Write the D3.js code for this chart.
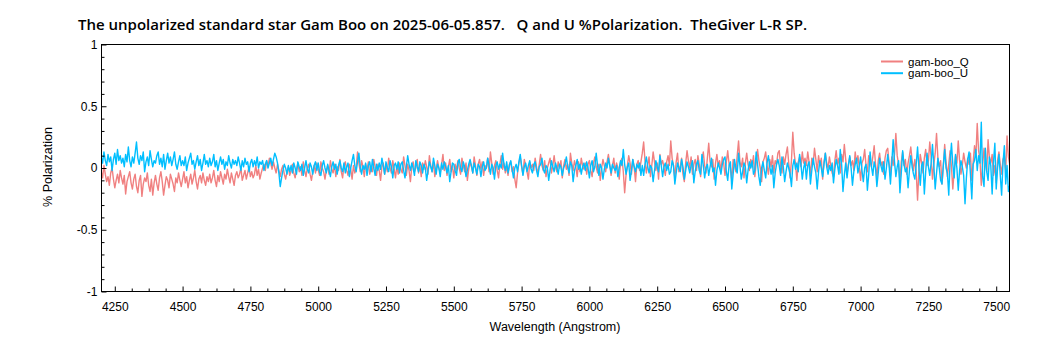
<!DOCTYPE html>
<html>
<head>
<meta charset="utf-8">
<script src="https://cdn.jsdelivr.net/npm/d3@7"></script>
<style>
  html, body { margin: 0; padding: 0; background: #fff; }
  svg { display: block; }
</style>
</head>
<body>
<svg id="chart" width="1050" height="350"></svg>
<script>
// ---- data ----
const titleText = "The unpolarized standard star Gam Boo on 2025-06-05.857.   Q and U %Polarization.  TheGiver L-R SP.";
const xLabel = "Wavelength (Angstrom)";
const yLabel = "% Polarization";
const seriesNames = ["gam-boo_Q", "gam-boo_U"];
const xTicks = [4250, 4500, 4750, 5000, 5250, 5500, 5750, 6000, 6250, 6500, 6750, 7000, 7250, 7500];
const yTicks = [-1, -0.5, 0, 0.5, 1];
const waveStart = 4200, waveStep = 5;

const qValues = [
  -0.03,-0.08,0.02,-0.05,-0.11,-0.07,-0.14,-0.04,0.00,-0.09,-0.16,-0.10,-0.05,-0.12,-0.02,-0.08,-0.13,-0.06,-0.21,-0.11,
  -0.07,-0.03,-0.12,-0.17,-0.09,-0.05,-0.15,-0.20,-0.10,-0.06,-0.23,-0.13,-0.08,-0.11,-0.04,-0.14,-0.19,-0.09,-0.22,-0.12,
  -0.06,-0.13,-0.18,-0.08,-0.03,-0.11,-0.22,-0.14,-0.07,-0.10,-0.16,-0.05,-0.09,-0.13,-0.19,-0.08,-0.12,-0.04,-0.10,-0.15,
  -0.09,-0.03,-0.12,-0.07,-0.16,-0.10,-0.05,-0.13,-0.08,-0.02,-0.11,-0.17,-0.09,-0.06,-0.12,-0.04,-0.10,-0.14,-0.07,-0.11,
  -0.05,-0.12,-0.08,-0.02,-0.10,-0.15,-0.06,-0.11,-0.03,-0.08,-0.13,-0.05,-0.09,-0.01,-0.07,-0.12,-0.04,-0.09,-0.14,-0.06,
  -0.03,-0.08,-0.05,0.00,-0.10,-0.06,-0.02,-0.09,-0.04,0.01,-0.07,-0.03,-0.08,-0.05,0.02,-0.06,-0.01,-0.09,-0.04,0.00,
  0.03,-0.02,0.06,0.01,0.08,0.04,-0.01,0.05,0.00,-0.04,0.03,-0.02,-0.07,-0.01,0.02,-0.05,-0.09,-0.03,0.01,-0.06,
  -0.02,0.03,-0.04,-0.08,-0.01,0.04,-0.03,0.01,-0.06,0.05,-0.02,-0.07,0.00,0.03,-0.05,-0.10,-0.03,0.02,-0.04,0.04,
  -0.01,-0.06,0.05,0.00,-0.03,-0.09,-0.02,0.02,-0.05,0.06,-0.01,-0.04,0.03,-0.07,0.01,-0.02,0.07,-0.03,-0.08,0.02,
  0.05,-0.02,-0.06,0.03,-0.01,-0.09,0.02,-0.04,0.00,0.13,0.04,-0.03,0.06,0.01,-0.07,0.03,-0.02,0.05,-0.05,0.00,
  -0.03,0.07,0.01,-0.06,0.03,-0.02,-0.10,0.01,0.04,-0.05,0.02,-0.03,0.08,0.00,-0.04,0.06,-0.01,-0.08,0.02,-0.05,
  0.04,-0.01,-0.04,0.09,0.02,-0.06,0.03,-0.02,-0.11,0.01,0.05,-0.03,0.00,0.07,-0.04,0.02,-0.07,0.04,-0.01,0.06,
  0.01,-0.05,0.10,0.02,-0.03,0.05,-0.07,-0.01,0.06,0.00,-0.04,0.03,0.11,-0.02,0.04,-0.06,0.01,0.07,-0.03,0.02,
  -0.08,0.03,-0.02,0.06,0.00,-0.05,0.08,0.02,-0.03,0.04,-0.10,-0.01,0.05,0.01,-0.04,0.09,0.02,-0.06,0.03,0.07,
  -0.01,0.05,-0.06,0.02,0.00,0.08,-0.03,0.13,0.04,-0.05,0.02,0.06,-0.02,-0.08,0.03,0.10,-0.01,0.04,-0.04,0.01,
  -0.06,0.03,0.05,-0.03,0.01,-0.09,-0.16,-0.04,0.04,0.09,0.01,-0.05,0.07,0.02,-0.03,-0.09,0.05,0.00,0.03,-0.02,
  0.08,0.01,-0.05,0.03,0.11,0.02,-0.02,0.06,-0.07,0.00,0.04,0.08,-0.04,0.02,0.10,0.01,-0.03,0.05,0.00,0.06,
  -0.08,0.02,0.07,-0.01,0.03,-0.06,0.12,0.04,-0.02,0.06,0.01,-0.07,0.05,-0.03,0.08,0.02,-0.01,0.04,-0.05,0.03,
  0.06,-0.02,-0.07,0.04,0.09,0.01,-0.04,0.03,-0.10,0.00,0.07,0.02,-0.03,0.05,0.11,0.03,-0.06,0.02,0.08,-0.04,
  0.04,0.00,-0.09,0.05,0.08,-0.03,-0.20,-0.06,0.02,0.10,0.04,-0.05,0.07,0.01,-0.11,0.03,0.06,-0.02,0.05,0.12,
  0.21,0.06,-0.04,0.03,0.09,-0.07,0.02,0.13,0.05,-0.02,0.04,-0.09,0.11,0.03,0.06,0.00,-0.06,0.05,0.10,0.02,
  0.22,0.08,0.02,-0.08,0.05,0.12,-0.03,0.01,0.08,-0.05,-0.11,0.04,0.14,0.06,0.00,0.09,-0.05,0.03,0.07,-0.02,
  0.10,0.03,-0.07,0.06,0.13,0.02,-0.04,0.08,0.20,0.05,0.01,0.07,-0.09,0.04,0.11,0.02,0.06,-0.03,0.09,0.04,
  -0.06,0.05,0.14,0.03,0.00,-0.10,0.07,0.02,-0.03,0.10,0.22,0.05,0.01,0.08,-0.08,0.04,0.12,0.03,-0.02,0.07,
  0.01,0.10,-0.07,0.04,0.15,0.06,0.00,-0.11,0.05,0.08,0.13,0.02,-0.05,0.07,0.01,0.10,-0.04,0.06,0.03,0.12,
  0.14,0.02,-0.04,0.09,0.03,0.11,0.17,0.04,-0.08,0.06,0.29,0.12,0.03,-0.10,0.05,0.09,0.01,0.13,0.04,0.08,
  0.02,0.13,0.05,-0.06,0.08,0.03,0.16,0.07,-0.03,0.10,0.02,0.08,-0.09,0.05,0.12,0.04,0.00,0.09,0.02,-0.04,
  -0.07,0.06,0.14,0.03,0.08,-0.04,0.11,0.05,0.19,0.07,-0.05,0.03,0.09,0.02,0.06,-0.02,0.13,0.04,0.10,0.01,
  -0.10,0.04,0.07,0.15,0.02,-0.03,0.10,0.05,0.01,0.09,0.18,0.03,-0.08,0.06,0.12,0.02,0.05,-0.05,0.08,0.14,
  0.16,0.04,-0.06,0.09,0.02,0.11,0.28,0.10,0.03,-0.11,0.05,0.13,0.02,0.07,-0.05,0.04,0.10,0.17,0.06,-0.02,
  0.07,-0.03,-0.26,-0.02,0.11,0.04,-0.04,0.08,0.15,0.02,0.06,0.21,0.09,-0.09,0.03,0.12,0.28,0.08,0.01,0.06,
  -0.13,0.02,0.19,0.05,-0.07,0.03,0.14,0.01,-0.17,-0.02,0.10,0.04,0.22,0.06,-0.05,0.02,0.12,0.05,0.00,0.08,
  0.03,0.12,-0.10,0.05,0.18,0.09,0.36,0.14,0.07,-0.14,0.02,0.16,0.05,-0.03,0.23,0.08,0.04,0.11,-0.06,0.02,
  -0.12,0.06,0.13,0.03,-0.05,0.07,0.10,-0.02,0.26,0.09,0.03
];

const uValues = [
  0.09,0.04,0.13,0.06,0.02,0.11,0.05,0.09,-0.02,0.07,0.12,0.03,0.15,0.06,0.10,0.04,0.08,0.01,0.11,0.05,
  0.17,0.06,0.01,0.09,0.04,0.12,0.21,0.08,0.03,0.10,0.06,0.13,-0.03,0.05,0.09,0.02,0.14,0.07,0.01,0.06,
  0.04,0.10,0.13,0.03,0.08,0.01,0.11,-0.01,0.06,0.12,0.04,0.09,0.02,0.07,0.13,0.03,-0.01,0.05,0.10,0.02,
  0.06,0.02,0.09,-0.02,0.04,0.08,0.12,0.03,0.06,-0.01,0.05,0.10,0.02,0.07,-0.02,0.04,0.11,0.03,0.06,0.01,
  0.08,0.02,0.05,0.11,0.01,0.06,-0.02,0.04,0.09,0.03,0.07,-0.01,0.05,0.02,0.10,0.04,0.00,0.07,0.03,0.06,
  0.02,0.09,0.04,-0.02,0.06,0.01,0.08,0.03,0.05,-0.03,0.04,0.07,0.01,0.06,0.02,0.09,0.00,0.05,0.03,0.06,
  -0.02,0.03,0.06,0.00,0.04,0.08,0.02,0.07,0.12,0.09,0.04,-0.04,-0.15,-0.08,-0.02,0.03,0.00,-0.05,0.02,-0.03,
  0.02,-0.04,0.04,0.00,-0.05,0.05,0.01,-0.02,0.03,-0.06,0.00,0.06,-0.01,-0.04,0.04,0.01,-0.05,0.02,0.05,-0.02,
  0.04,-0.03,-0.06,0.02,0.06,0.00,-0.04,0.03,-0.02,-0.07,0.01,0.05,-0.01,0.03,-0.05,0.02,0.06,0.00,-0.03,0.04,
  -0.04,0.01,0.04,-0.07,0.00,0.06,0.11,0.02,-0.03,0.05,0.12,0.01,-0.05,0.02,-0.01,0.04,-0.06,0.02,0.05,-0.03,
  0.07,0.00,-0.06,0.03,-0.02,0.04,-0.01,0.08,0.02,-0.05,0.05,0.00,-0.03,0.06,0.01,-0.08,0.02,0.04,-0.01,0.05,
  -0.04,0.03,0.05,-0.02,-0.08,0.01,0.10,0.03,-0.02,0.04,0.00,-0.06,0.06,0.01,-0.03,0.05,0.02,-0.04,0.03,0.00,
  -0.10,-0.02,0.05,0.01,-0.03,0.08,0.02,-0.05,0.03,0.00,-0.07,0.04,-0.01,0.05,0.01,-0.04,0.02,-0.11,-0.03,0.04,
  0.03,-0.02,-0.06,0.04,0.07,0.00,-0.03,0.05,0.01,-0.07,-0.02,0.03,0.07,0.02,-0.04,0.04,0.00,-0.05,0.03,0.01,
  -0.07,0.01,0.05,-0.02,0.00,0.08,0.02,-0.05,0.03,0.00,-0.09,0.02,0.05,-0.01,0.03,0.00,0.12,0.03,-0.02,0.05,
  -0.04,0.02,0.06,-0.01,-0.08,0.00,0.03,-0.03,0.05,0.11,0.02,-0.06,0.01,0.04,-0.03,0.02,0.06,-0.01,-0.04,0.03,
  0.05,-0.02,-0.07,0.01,0.03,0.08,-0.01,-0.04,0.02,0.00,-0.10,-0.02,0.06,0.01,-0.03,0.04,0.00,-0.05,0.03,0.01,
  -0.06,0.00,0.03,0.09,0.01,-0.04,0.05,0.02,-0.11,-0.02,0.02,0.07,-0.01,0.03,-0.05,0.01,0.04,-0.02,0.05,0.00,
  -0.08,0.02,0.06,-0.03,0.01,0.12,0.02,-0.06,0.03,0.00,-0.09,-0.01,0.04,0.00,0.08,0.02,-0.04,0.03,0.00,-0.02,
  0.02,-0.07,0.00,0.06,0.02,0.15,0.03,-0.05,0.01,0.04,-0.10,-0.02,0.07,0.01,-0.03,0.03,0.00,0.04,-0.06,0.02,
  -0.06,0.03,0.09,0.01,-0.04,0.02,0.00,-0.11,-0.02,0.06,0.01,-0.03,0.10,0.02,-0.07,0.01,0.04,-0.02,0.03,-0.05,
  -0.03,0.06,0.02,-0.13,-0.04,0.04,0.00,-0.03,0.07,0.01,-0.09,-0.02,0.05,0.01,-0.04,0.02,0.06,-0.12,-0.03,0.03,
  0.06,-0.02,-0.05,0.11,0.02,-0.08,0.00,0.03,-0.06,0.01,0.08,-0.03,0.00,-0.14,-0.02,0.04,0.00,-0.05,0.03,0.07,
  0.09,-0.03,-0.10,0.02,0.05,-0.17,-0.05,0.07,0.00,-0.04,0.12,0.02,-0.09,-0.03,0.04,0.01,-0.12,-0.02,0.05,0.00,
  0.06,-0.05,-0.02,0.13,0.03,-0.07,-0.14,0.00,0.05,-0.02,-0.08,0.04,0.10,0.01,-0.05,0.02,-0.16,-0.04,0.03,0.07,
  0.02,-0.06,0.09,0.01,-0.11,-0.03,0.04,0.00,-0.05,-0.15,0.02,0.07,-0.01,0.04,-0.03,0.11,0.03,-0.09,0.00,0.05,
  -0.09,0.02,0.05,-0.13,-0.02,0.08,0.01,-0.04,-0.17,-0.03,0.06,0.00,-0.07,0.03,0.12,0.01,-0.05,0.02,-0.02,0.04,
  -0.12,-0.01,0.07,0.02,-0.05,0.15,0.03,-0.19,-0.06,0.04,-0.08,0.02,0.10,0.00,-0.14,-0.03,0.03,0.08,-0.04,0.01,
  0.09,-0.02,-0.11,0.00,0.03,-0.18,-0.05,0.13,0.01,-0.06,0.05,0.00,-0.15,-0.04,0.08,0.02,-0.03,0.05,-0.09,0.00,
  0.11,0.02,-0.13,0.04,0.23,0.05,-0.07,0.01,0.06,-0.20,-0.04,0.14,0.03,-0.03,0.00,-0.16,-0.02,0.10,0.01,-0.05,
  -0.09,0.03,0.17,0.00,-0.14,0.02,0.05,-0.21,-0.03,0.12,0.01,-0.06,0.04,0.19,0.02,-0.17,-0.04,0.08,0.00,-0.10,
  -0.13,0.02,0.15,0.00,-0.04,-0.22,0.05,0.20,0.03,-0.08,0.11,0.00,-0.18,-0.02,0.06,0.01,-0.06,-0.29,-0.08,0.07,
  0.13,-0.05,-0.25,0.03,0.06,0.15,-0.02,0.10,0.04,0.37,-0.07,-0.15,0.16,-0.03,-0.10,0.09,0.02,-0.21,0.05,0.20,
  -0.17,0.00,0.11,-0.06,-0.22,0.04,0.18,-0.13,0.02,-0.19,-0.14
];

const colors = ["#F08080", "#00BFFF"];

// ---- layout ----
const svg = d3.select("#chart");
const margin = { left: 101.5, right: 1009.5, top: 44.5, bottom: 291.5 };

const x = d3.scaleLinear().domain([4201, 7549]).range([margin.left, margin.right]);
const y = d3.scaleLinear().domain([-1, 1]).range([margin.bottom, margin.top]);

const series = [qValues, uValues].map((vals, k) => ({
  name: seriesNames[k], color: colors[k],
  points: vals.map((v, i) => [waveStart + i * waveStep, v])
}));

svg.append("defs").append("clipPath").attr("id", "clip")
  .append("rect").attr("x", margin.left).attr("y", margin.top)
  .attr("width", margin.right - margin.left).attr("height", margin.bottom - margin.top);

const line = d3.line().x(d => x(d[0])).y(d => y(d[1]));

const plot = svg.append("g").attr("clip-path", "url(#clip)");
series.forEach(s => {
  plot.append("path").datum(s.points)
    .attr("fill", "none").attr("stroke", s.color)
    .attr("stroke-width", 1.4).attr("stroke-linejoin", "round")
    .attr("d", line);
});

// frame
svg.append("rect").attr("x", margin.left).attr("y", margin.top)
  .attr("width", margin.right - margin.left).attr("height", margin.bottom - margin.top)
  .attr("fill", "none").attr("stroke", "#000").attr("stroke-width", 1);

const tickFont = "'Liberation Sans', Arial, sans-serif";

// x axis
const xMinor = d3.range(4250, 7550, 62.5).filter(v => !xTicks.includes(v));
const xAxis = d3.axisBottom(x).tickValues(xTicks).tickSize(-5).tickPadding(11).tickFormat(d => String(d));
const gx = svg.append("g").attr("transform", `translate(0,${margin.bottom})`).call(xAxis);
gx.select(".domain").remove();
gx.selectAll("text").attr("font-family", tickFont).attr("font-size", 12).attr("fill", "#000");
const xMinorAxis = d3.axisBottom(x).tickValues(xMinor).tickSize(-3).tickFormat("");
svg.append("g").attr("transform", `translate(0,${margin.bottom})`).call(xMinorAxis).select(".domain").remove();

// y axis
const yMinor = d3.range(-0.9, 1.0, 0.1).map(v => +v.toFixed(2)).filter(v => !yTicks.some(t => Math.abs(t - v) < 1e-6));
const yAxis = d3.axisLeft(y).tickValues(yTicks).tickSize(-5).tickPadding(4).tickFormat(d => String(d));
const gy = svg.append("g").attr("transform", `translate(${margin.left},0)`).call(yAxis);
gy.select(".domain").remove();
gy.selectAll("text").attr("font-family", tickFont).attr("font-size", 12).attr("fill", "#000");
const yMinorAxis = d3.axisLeft(y).tickValues(yMinor).tickSize(-3).tickFormat("");
svg.append("g").attr("transform", `translate(${margin.left},0)`).call(yMinorAxis).select(".domain").remove();

// title
svg.append("text").attr("x", 78).attr("y", 30)
  .attr("font-family", "'Open Sans', 'Noto Sans', sans-serif").attr("font-weight", 600)
  .attr("font-size", 15).attr("fill", "#000")
  .style("white-space", "pre")
  .text(titleText);

// axis labels
svg.append("text").attr("x", 555).attr("y", 331).attr("text-anchor", "middle")
  .attr("font-family", tickFont).attr("font-size", 12.5).attr("fill", "#000").text(xLabel);
svg.append("text").attr("transform", "translate(52,167) rotate(-90)").attr("text-anchor", "middle")
  .attr("font-family", tickFont).attr("font-size", 12.5).attr("fill", "#000").text(yLabel);

// legend
const legend = svg.append("g");
series.forEach((s, i) => {
  const ly = 61.5 + i * 11.7;
  legend.append("line").attr("x1", 881).attr("x2", 903).attr("y1", ly).attr("y2", ly)
    .attr("stroke", s.color).attr("stroke-width", 2);
  legend.append("text").attr("x", 908).attr("y", ly + 4)
    .attr("font-family", tickFont).attr("font-size", 11.5).attr("fill", "#000").text(s.name);
});
</script>
</body>
</html>
